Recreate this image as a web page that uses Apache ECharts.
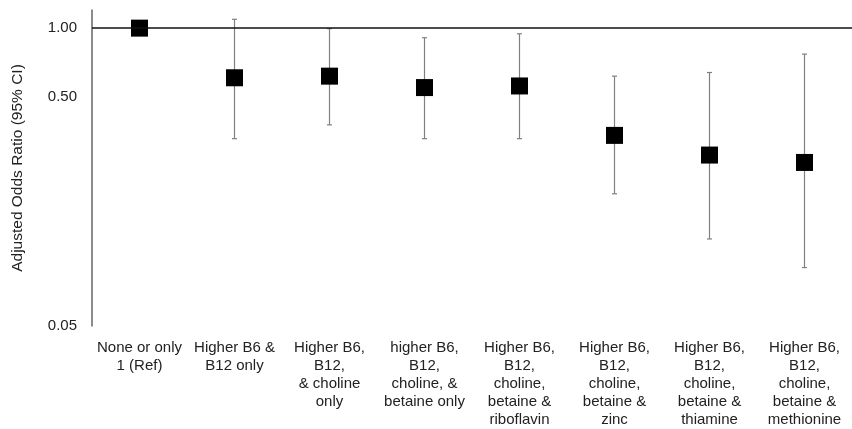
<!DOCTYPE html>
<html>
<head>
<meta charset="utf-8">
<script src="https://cdn.jsdelivr.net/npm/echarts@6/dist/echarts.min.js"></script>
<style>html,body{margin:0;padding:0;background:#fff;}#c{width:852px;height:429px;}</style>
</head>
<body>
<div id="c"></div>
<script>
var categories = [
  'None or only\n1 (Ref)',
  'Higher B6 &\nB12 only',
  'Higher B6,\nB12,\n& choline\nonly',
  'higher B6,\nB12,\ncholine, &\nbetaine only',
  'Higher B6,\nB12,\ncholine,\nbetaine &\nriboflavin',
  'Higher B6,\nB12,\ncholine,\nbetaine &\nzinc',
  'Higher B6,\nB12,\ncholine,\nbetaine &\nthiamine',
  'Higher B6,\nB12,\ncholine,\nbetaine &\nmethionine'
];
var oddsRatio = [1.00, 0.607, 0.617, 0.55, 0.559, 0.340, 0.279, 0.259];
var ciLower   = [1.00, 0.329, 0.378, 0.329, 0.329, 0.189, 0.120, 0.090];
var ciUpper   = [1.00, 1.093, 0.995, 0.908, 0.945, 0.617, 0.640, 0.770];
var yTicks = [0.05, 0.5, 1.0];

var chart = echarts.init(document.getElementById('c'), null, {renderer: 'canvas'});
var font = 'Liberation Sans, Arial, sans-serif';
chart.setOption({
  animation: false,
  grid: {left: 92, right: -8, top: 10, bottom: 99, containLabel: false},
  xAxis: {
    type: 'category',
    data: categories,
    axisLine: {show: false},
    axisTick: {show: false},
    splitLine: {show: false},
    axisLabel: {interval: 0, color: '#222', fontFamily: font, fontSize: 15, lineHeight: 18, margin: 13}
  },
  yAxis: {
    type: 'log',
    logBase: 10,
    min: 0.05,
    max: 1.2,
    name: 'Adjusted Odds Ratio (95% CI)',
    nameLocation: 'middle',
    nameGap: 66,
    nameTextStyle: {color: '#222', fontFamily: font, fontSize: 15.5},
    axisLine: {show: true, lineStyle: {color: '#666', width: 1.5}},
    axisTick: {show: false},
    splitLine: {show: false},
    axisLabel: {
      customValues: yTicks,
      color: '#222', fontFamily: font, fontSize: 15, margin: 15,
      formatter: function (v) { return Number(v).toFixed(2); }
    }
  },
  series: [
    {
      type: 'custom',
      z: 1,
      data: categories.map(function (c, i) { return [i, ciLower[i], ciUpper[i]]; }),
      renderItem: function (params, api) {
        var i = api.value(0);
        if (api.value(1) === api.value(2)) return null;
        var lo = api.coord([i, api.value(1)]);
        var hi = api.coord([i, api.value(2)]);
        var cap = 2.5;
        var st = {stroke: '#808080', lineWidth: 1.2};
        return {type: 'group', children: [
          {type: 'line', shape: {x1: lo[0], y1: lo[1], x2: hi[0], y2: hi[1]}, style: st},
          {type: 'line', shape: {x1: lo[0]-cap, y1: lo[1], x2: lo[0]+cap, y2: lo[1]}, style: st},
          {type: 'line', shape: {x1: hi[0]-cap, y1: hi[1], x2: hi[0]+cap, y2: hi[1]}, style: st}
        ]};
      }
    },
    {
      type: 'scatter',
      z: 3,
      symbol: 'rect',
      symbolSize: 17,
      itemStyle: {color: '#000', opacity: 1},
      data: oddsRatio.map(function (v, i) { return [i, v]; }),
      markLine: {
        silent: true,
        symbol: 'none',
        label: {show: false},
        lineStyle: {color: '#111', width: 1.5, type: 'solid'},
        data: [{yAxis: 1}]
      }
    }
  ]
});
</script>
</body>
</html>
